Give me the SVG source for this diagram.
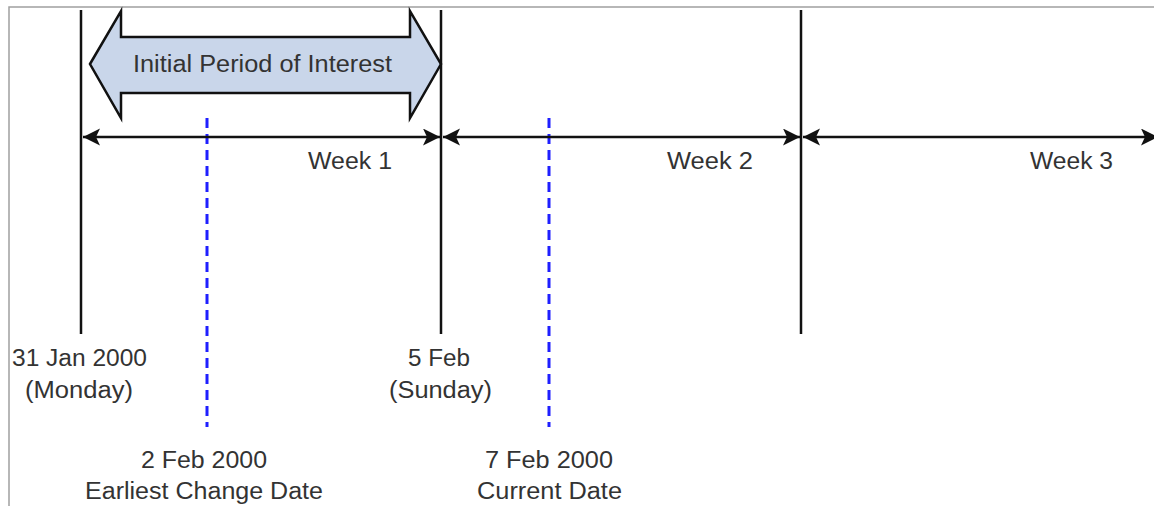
<svg xmlns="http://www.w3.org/2000/svg" width="1154" height="506" viewBox="0 0 1154 506">
<style>
text{font-family:"Liberation Sans",Arial,sans-serif;font-size:23px;fill:#333;text-anchor:middle}
.vl{stroke:#111;stroke-width:2.5;fill:none}
.dl{stroke:#1f1fff;stroke-width:3;stroke-dasharray:10 6;fill:none}
.ar{stroke:#111;stroke-width:2.5;fill:none;marker-start:url(#ah);marker-end:url(#ah)}
</style>
<defs>
<marker id="ah" markerUnits="userSpaceOnUse" markerWidth="20" markerHeight="20" refX="17" refY="8.5" orient="auto-start-reverse" viewBox="0 0 20 20">
<path d="M0,0 L17,8.5 L0,17 L4,8.5 z" fill="#111"/>
</marker>
</defs>
<rect width="1154" height="506" fill="#fff"/>
<g id="border"><path d="M9,506 V7 H1154" stroke="#a0a0a0" stroke-width="1.5" fill="none"/></g>
<g id="period">
<polygon points="90,64 121,11 121,37 410,37 410,11 441,64 410,118 410,93 121,93 121,118" fill="#c9d6ea" stroke="#111" stroke-width="2.5" stroke-linejoin="miter"/>
<text x="262.5" y="72" textLength="259" lengthAdjust="spacingAndGlyphs">Initial Period of Interest</text>
</g>
<g id="connectors">
<line class="vl" x1="81" y1="10" x2="81" y2="334"/>
<line class="vl" x1="441" y1="10" x2="441" y2="334"/>
<line class="vl" x1="801" y1="10" x2="801" y2="334"/>
<line class="dl" x1="207" y1="118" x2="207" y2="427"/>
<line class="dl" x1="549" y1="118" x2="549" y2="427"/>
<line class="ar" x1="83" y1="137" x2="440" y2="137"/>
<line class="ar" x1="443" y1="137" x2="800" y2="137"/>
<line class="ar" x1="803" y1="137" x2="1158" y2="137"/>
</g>
<g id="week1"><text x="350" y="169" textLength="84" lengthAdjust="spacingAndGlyphs">Week 1</text></g>
<g id="week2"><text x="710" y="169" textLength="86" lengthAdjust="spacingAndGlyphs">Week 2</text></g>
<g id="week3"><text x="1071.5" y="169" textLength="83" lengthAdjust="spacingAndGlyphs">Week 3</text></g>
<g id="date-31jan">
<text x="79.5" y="366" textLength="135" lengthAdjust="spacingAndGlyphs">31 Jan 2000</text>
<text x="79" y="398" textLength="108" lengthAdjust="spacingAndGlyphs">(Monday)</text>
</g>
<g id="date-5feb">
<text x="439" y="366" textLength="62" lengthAdjust="spacingAndGlyphs">5 Feb</text>
<text x="440.5" y="398" textLength="103" lengthAdjust="spacingAndGlyphs">(Sunday)</text>
</g>
<g id="date-2feb">
<text x="204" y="468" textLength="126" lengthAdjust="spacingAndGlyphs">2 Feb 2000</text>
<text x="204" y="499" textLength="238" lengthAdjust="spacingAndGlyphs">Earliest Change Date</text>
</g>
<g id="date-7feb">
<text x="549" y="468" textLength="128" lengthAdjust="spacingAndGlyphs">7 Feb 2000</text>
<text x="549.5" y="499" textLength="145" lengthAdjust="spacingAndGlyphs">Current Date</text>
</g>
</svg>
